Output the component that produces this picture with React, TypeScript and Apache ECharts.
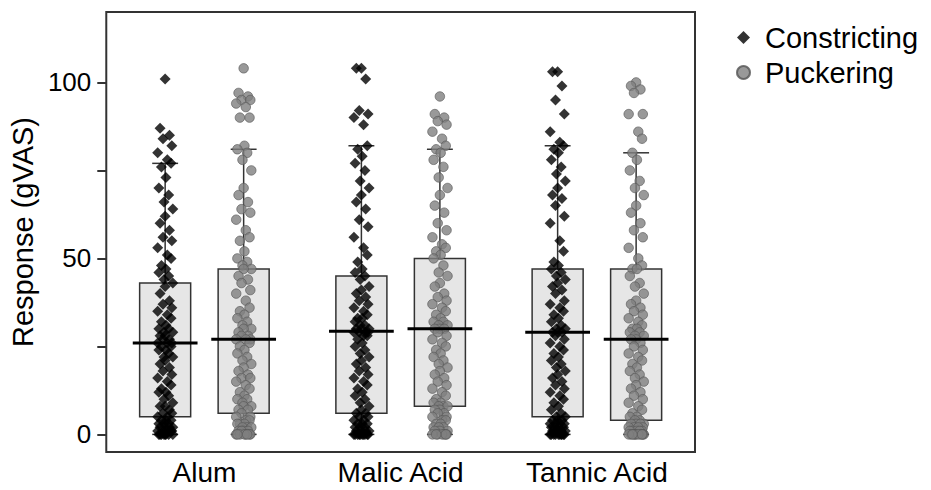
import React, { useEffect, useRef } from "react";
import * as echarts from "echarts";

const CATEGORIES = ["Alum", "Malic Acid", "Tannic Acid"];
const SERIES_NAMES = ["Constricting", "Puckering"];
const Y_TICKS = [0, 25, 50, 75, 100];
const Y_LABELS = [0, 50, 100];

// box statistics per category: [lower whisker, Q1, median, Q3, upper whisker]
const CONSTRICTING_STATS = [
  [0, 5, 26, 43, 77],
  [0, 6, 29.3, 45, 82],
  [0, 5, 29, 47, 82],
];
const PUCKERING_STATS = [
  [0, 6, 27, 47, 81],
  [0, 8, 30, 50, 81],
  [0, 4, 27, 47, 80],
];

// individual responses
const CONSTRICTING_ALUM = [
  101, 87, 85, 84, 82, 80, 78, 77, 76, 73, 70, 68, 66, 64, 62, 60, 58, 56, 55, 53, 51, 50, 48, 47, 46, 45, 44,
  43, 42, 40, 38, 37, 36, 35, 34, 33, 32, 31, 30, 30, 29, 29, 28, 28, 27, 27, 26, 26, 26, 25, 25,
  24, 24, 23, 22, 22, 21, 20, 19, 18, 17, 16, 15, 14, 13, 12, 12, 11, 10, 9, 8, 8, 7, 6, 6, 5,
  5, 4, 4, 4, 3, 3, 3, 2, 2, 2, 2, 1, 1, 1, 1, 1, 0, 0, 0, 0, 0, 0, 0, 0,
];
const PUCKERING_ALUM = [
  104, 97, 96, 95, 95, 94, 93, 90, 90, 82, 81, 80, 78, 75, 70, 68, 66, 64, 63, 61, 58, 56, 55, 52, 50, 49, 48, 47, 47,
  45, 44, 43, 41, 40, 38, 36, 35, 34, 33, 32, 31, 30, 30, 29, 28, 28, 27, 27, 27,
  26, 25, 24, 23, 22, 21, 20, 19, 18, 17, 16, 16, 15, 14, 13, 12, 11, 10, 10, 9, 8, 8, 7, 7, 6,
  5, 5, 4, 4, 3, 3, 3, 2, 2, 2, 1, 1, 1, 1, 0, 0, 0, 0, 0, 0, 0, 0,
];
const CONSTRICTING_MALIC = [
  104, 104, 101, 92, 91, 90, 88, 82, 81, 79, 77, 75, 72, 70, 68, 66, 64, 61, 59, 56, 53, 51, 49, 47, 46, 45,
  44, 42, 41, 40, 39, 38, 37, 36, 35, 34, 33, 33, 32, 31, 31, 30, 30, 30, 29, 29, 29, 29,
  28, 28, 27, 26, 25, 24, 23, 22, 21, 20, 19, 18, 17, 16, 15, 14, 13, 12, 11, 10, 9, 8, 7, 6, 6,
  5, 5, 4, 4, 3, 3, 3, 2, 2, 2, 1, 1, 1, 1, 0, 0, 0, 0, 0, 0, 0, 0, 0, 0,
];
const PUCKERING_MALIC = [
  96, 91, 90, 89, 88, 86, 84, 82, 81, 80, 78, 76, 73, 70, 68, 65, 63, 60, 58, 56, 54, 53, 52, 51, 50,
  48, 46, 45, 43, 42, 40, 39, 38, 37, 36, 35, 34, 33, 32, 32, 31, 31, 30, 30, 30,
  29, 28, 27, 26, 25, 24, 23, 22, 21, 20, 19, 18, 17, 16, 15, 14, 13, 12, 11, 10, 9, 9, 8, 8, 8,
  7, 7, 6, 6, 5, 5, 4, 4, 3, 3, 2, 2, 2, 1, 1, 1, 0, 0, 0, 0, 0, 0, 0,
];
const CONSTRICTING_TANNIC = [
  103, 103, 99, 95, 91, 86, 83, 82, 81, 80, 78, 76, 74, 72, 70, 68, 67, 65, 62, 60, 55, 52, 49, 48, 47,
  46, 45, 44, 43, 42, 41, 40, 38, 37, 36, 35, 34, 33, 32, 31, 30, 30, 29, 29, 29,
  28, 27, 26, 25, 24, 23, 22, 21, 20, 19, 18, 17, 16, 15, 14, 13, 12, 11, 10, 9, 8, 7, 6, 5, 5,
  4, 4, 4, 3, 3, 3, 3, 2, 2, 2, 2, 1, 1, 1, 1, 1, 0, 0, 0, 0, 0, 0, 0, 0, 0, 0,
];
const PUCKERING_TANNIC = [
  100, 99, 98, 97, 91, 91, 86, 84, 80, 78, 75, 72, 70, 68, 65, 63, 60, 58, 56, 53, 50, 48, 47, 47,
  45, 43, 42, 40, 38, 37, 36, 35, 34, 33, 32, 31, 30, 30, 29, 29, 28, 28, 27, 27,
  26, 25, 24, 23, 22, 21, 20, 19, 18, 17, 16, 15, 14, 13, 12, 11, 10, 9, 8, 7, 6, 5, 5, 4, 4,
  3, 3, 3, 3, 2, 2, 2, 2, 1, 1, 1, 1, 1, 0, 0, 0, 0, 0, 0, 0, 0, 0, 0, 0,
];

const CONSTRICTING_POINTS = [CONSTRICTING_ALUM, CONSTRICTING_MALIC, CONSTRICTING_TANNIC];
const PUCKERING_POINTS = [PUCKERING_ALUM, PUCKERING_MALIC, PUCKERING_TANNIC];

// layout constants (in category units)
const GROUP_OFFSET = 0.2;
const BOX_HALF = 0.13;
const MEDIAN_HALF = 0.165;
const CAP_HALF = 0.066;
const JITTER = [0, -0.026, 0.022, -0.011, 0.034, -0.038, 0.011, 0.03, -0.019, 0.004, -0.032, 0.018, -0.006, 0.039];

const FONT = "'Liberation Sans', Arial, Helvetica, sans-serif";
const LINE = "#333333";

function boxData(stats: number[][], offset: number) {
  return stats.map((s, i) => [i + 0.5 + offset, ...s]);
}

function pointData(groups: number[][], offset: number) {
  const out: number[][] = [];
  groups.forEach((vals, i) => {
    vals.forEach((v, k) => {
      out.push([i + 0.5 + offset + JITTER[k % JITTER.length], v]);
    });
  });
  return out;
}

function renderBox(params: any, api: any) {
  const x = api.value(0);
  const lo = api.value(1);
  const q1 = api.value(2);
  const q3 = api.value(4);
  const hi = api.value(5);
  const pHi = api.coord([x, hi]);
  const pQ3 = api.coord([x, q3]);
  const pQ1 = api.coord([x, q1]);
  const pLo = api.coord([x, lo]);
  const left = api.coord([x - BOX_HALF, q3]);
  const right = api.coord([x + BOX_HALF, q1]);
  const capL = api.coord([x - CAP_HALF, hi])[0];
  const capR = api.coord([x + CAP_HALF, hi])[0];
  const lineStyle = { stroke: LINE, lineWidth: 1.5 };
  return {
    type: "group",
    children: [
      { type: "line", shape: { x1: pHi[0], y1: pHi[1], x2: pQ3[0], y2: pQ3[1] }, style: lineStyle },
      { type: "line", shape: { x1: capL, y1: pHi[1], x2: capR, y2: pHi[1] }, style: lineStyle },
      { type: "line", shape: { x1: pQ1[0], y1: pQ1[1], x2: pLo[0], y2: pLo[1] }, style: lineStyle },
      { type: "line", shape: { x1: capL, y1: pLo[1], x2: capR, y2: pLo[1] }, style: lineStyle },
      {
        type: "rect",
        shape: { x: left[0], y: left[1], width: right[0] - left[0], height: right[1] - left[1] },
        style: { fill: "#e6e6e6", stroke: LINE, lineWidth: 1.5 },
      },
    ],
  };
}

function renderMedian(params: any, api: any) {
  const x = api.value(0);
  const med = api.value(3);
  const a = api.coord([x - MEDIAN_HALF, med]);
  const b = api.coord([x + MEDIAN_HALF, med]);
  return {
    type: "line",
    shape: { x1: a[0], y1: a[1], x2: b[0], y2: b[1] },
    style: { stroke: "#000", lineWidth: 3 },
  };
}

export default function App() {
  const ref = useRef<HTMLDivElement>(null);

  useEffect(() => {
    if (!ref.current) return;
    const chart = echarts.init(ref.current, null, { renderer: "svg" });
    const cBox = boxData(CONSTRICTING_STATS, -GROUP_OFFSET);
    const pBox = boxData(PUCKERING_STATS, GROUP_OFFSET);
    const customBase = {
      type: "custom",
      xAxisIndex: 1,
      yAxisIndex: 0,
      encode: { x: 0, y: [1, 2, 3, 4, 5] },
      silent: true,
    };
    chart.setOption({
      animation: false,
      grid: {
        left: 105,
        right: 236,
        top: 12,
        bottom: 38,
        show: true,
        borderColor: LINE,
        borderWidth: 2,
        backgroundColor: "transparent",
      },
      legend: {
        orient: "vertical",
        left: 731,
        top: 18,
        itemWidth: 13,
        itemHeight: 13,
        itemGap: 6,
        data: SERIES_NAMES,
        textStyle: { fontFamily: FONT, fontSize: 29, color: "#000", padding: [0, 0, 0, 10] },
      },
      xAxis: [
        {
          type: "category",
          data: CATEGORIES,
          boundaryGap: true,
          axisLine: { show: false },
          axisTick: { show: false },
          axisLabel: { fontFamily: FONT, fontSize: 28, color: "#000", margin: 6 },
          splitLine: { show: false },
        },
        { type: "value", min: 0, max: 3, show: false },
      ],
      yAxis: {
        type: "value",
        min: -5,
        max: 120,
        name: "Response (gVAS)",
        nameLocation: "middle",
        nameGap: 59,
        nameTextStyle: { fontFamily: FONT, fontSize: 29, color: "#000" },
        axisLine: { show: false },
        axisTick: { show: true, length: 9, customValues: Y_TICKS, lineStyle: { color: LINE, width: 2 } },
        axisLabel: { fontFamily: FONT, fontSize: 26, color: "#000", margin: 15, customValues: Y_LABELS },
        splitLine: { show: false },
      },
      series: [
        { ...customBase, name: "boxC", renderItem: renderBox, data: cBox, z: 1 },
        { ...customBase, name: "boxP", renderItem: renderBox, data: pBox, z: 1 },
        {
          type: "scatter",
          name: SERIES_NAMES[0],
          xAxisIndex: 1,
          symbol: "diamond",
          symbolSize: 11,
          itemStyle: { color: "#000" },
          data: pointData(CONSTRICTING_POINTS, -GROUP_OFFSET),
          z: 2,
        },
        {
          type: "scatter",
          name: SERIES_NAMES[1],
          xAxisIndex: 1,
          symbol: "circle",
          symbolSize: 9.5,
          itemStyle: { color: "#808080", borderColor: "#555555", borderWidth: 0.8 },
          data: pointData(PUCKERING_POINTS, GROUP_OFFSET),
          z: 2,
        },
        { ...customBase, name: "medC", renderItem: renderMedian, data: cBox, z: 3 },
        { ...customBase, name: "medP", renderItem: renderMedian, data: pBox, z: 3 },
      ],
    });
    return () => chart.dispose();
  }, []);

  return (
    <div
      ref={ref}
      style={{ position: "absolute", left: 0, top: 0, width: 931, height: 490, background: "#fff" }}
    />
  );
}
